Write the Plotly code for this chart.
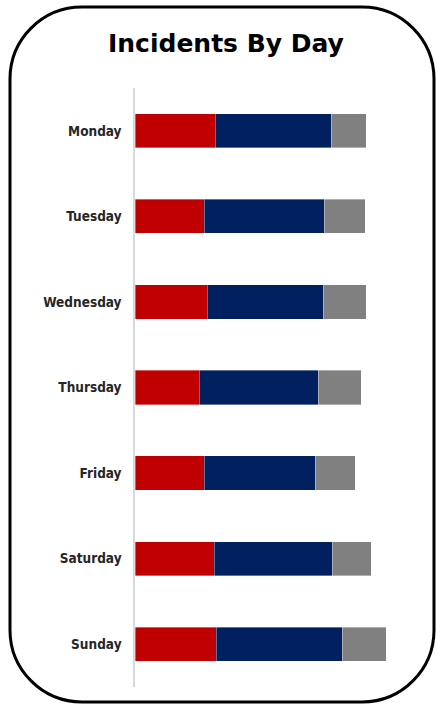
import plotly.graph_objects as go

days = ["Monday", "Tuesday", "Wednesday", "Thursday", "Friday", "Saturday", "Sunday"]
series_names = ["Category A", "Category B", "Category C"]
red_vals = [40, 34.5, 36, 32, 34.5, 39.5, 40.5]
blue_vals = [58, 60, 58, 59.5, 55.5, 59, 63]
gray_vals = [17.5, 20.5, 21.5, 21.5, 20, 19.5, 22]
colors = ["#C00000", "#002060", "#808080"]

W, H = 436, 704
ML, MR, MT, MB = 135, 21, 88, 17
PW, PH = W - ML - MR, H - MT - MB


def px(x):
    return (x - ML) / PW


def py(y):
    return (H - MB - y) / PH


fig = go.Figure()
for name, vals, col in zip(series_names, [red_vals, blue_vals, gray_vals], colors):
    fig.add_trace(go.Bar(
        y=days, x=vals, orientation="h", name=name,
        marker=dict(color=col, line=dict(color="rgba(255,255,255,0.6)", width=0.6)),
    ))

# rounded border path (pixel coords converted to paper)
x0, x1, y0, y1, r = 10, 434, 7, 702, 72
k = 0.5523 * r
pts = [
    ("M", [(x0 + r, y0)]),
    ("L", [(x1 - r, y0)]),
    ("C", [(x1 - r + k, y0), (x1, y0 + r - k), (x1, y0 + r)]),
    ("L", [(x1, y1 - r)]),
    ("C", [(x1, y1 - r + k), (x1 - r + k, y1), (x1 - r, y1)]),
    ("L", [(x0 + r, y1)]),
    ("C", [(x0 + r - k, y1), (x0, y1 - r + k), (x0, y1 - r)]),
    ("L", [(x0, y0 + r)]),
    ("C", [(x0, y0 + r - k), (x0 + r - k, y0), (x0 + r, y0)]),
]
path = ""
for cmd, ps in pts:
    path += cmd + " " + " ".join(f"{px(a):.5f},{py(b):.5f}" for a, b in ps) + " "
path += "Z"

fig.update_layout(
    width=W, height=H,
    margin=dict(l=ML, r=MR, t=MT, b=MB),
    paper_bgcolor="white", plot_bgcolor="white",
    barmode="stack", bargap=0.6,
    showlegend=False,
    xaxis=dict(range=[0, PW / 2], visible=False, fixedrange=True),
    yaxis=dict(
        autorange="reversed", showgrid=False, zeroline=False,
        showline=True, linecolor="#d9d9d9", linewidth=1.5,
        ticks="", ticklabelstandoff=9,
        tickfont=dict(family="Liberation Sans Narrow, Arial Narrow, DejaVu Sans Condensed", size=13.5, color="#262626"),
    ),
    shapes=[dict(type="path", xref="paper", yref="paper", path=path,
                 line=dict(color="black", width=3), layer="above")],
    annotations=[dict(
        text="<b>Incidents By Day</b>", xref="paper", yref="paper",
        x=px(226), y=py(43), xanchor="center", yanchor="middle", showarrow=False,
        font=dict(family="DejaVu Sans", size=25, color="black"),
    )],
)
fig.update_yaxes(tickprefix="<b>", ticksuffix="</b>")

fig.write_html("out.html", config={"displayModeBar": False},
               post_script="document.body.style.margin='0';")
